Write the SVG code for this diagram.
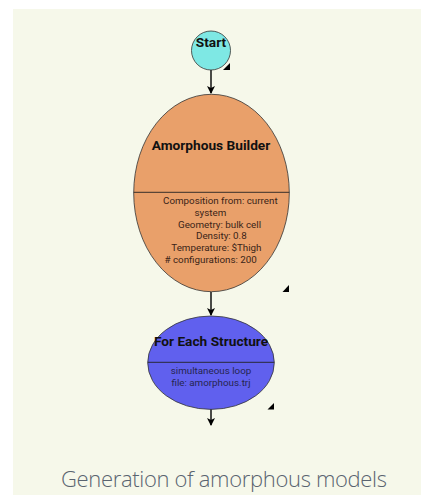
<svg xmlns="http://www.w3.org/2000/svg" width="421" height="495" viewBox="0 0 421 495">
<style>
.title{font-family:Roboto,"Liberation Sans",sans-serif;font-weight:bold;font-size:13.7px;fill:#111;text-anchor:middle}
.body{font-family:Roboto,"Liberation Sans",sans-serif;font-size:9.8px;fill:#3a2418}
.bodyb{font-family:Roboto,"Liberation Sans",sans-serif;font-size:9.8px;fill:#262650;text-anchor:middle}
.shape{stroke:#333;stroke-width:0.8}
.div{stroke:#222;stroke-width:0.9}
.conn{stroke:#000;stroke-width:1.4;fill:none;marker-end:url(#arr)}
.tri{fill:#000}
</style>
<defs>
<marker id="arr" viewBox="0 0 8 8" refX="7" refY="4" markerWidth="8" markerHeight="8" markerUnits="userSpaceOnUse" orient="auto">
<path d="M0,0 L8,4 L0,8 L2,4 Z" fill="#000"/>
</marker>
</defs>
<rect x="0" y="0" width="421" height="495" fill="#ffffff"/>
<rect x="13" y="9" width="408" height="486" fill="#f6f8ea"/>
<g id="connectors">
<line class="conn" x1="211" y1="70" x2="211" y2="93"/>
<line class="conn" x1="211" y1="292" x2="211" y2="315"/>
<line class="conn" x1="211" y1="409" x2="211" y2="425"/>
</g>
<g id="start">
<circle class="shape" cx="211" cy="50.5" r="19.5" fill="#7ee8e4"/>
<text class="title" x="211" y="46.5">Start</text>
<path class="tri" d="M230,63 L230,70 L223,70 Z"/>
</g>
<g id="amorphous-builder">
<ellipse class="shape" cx="211.5" cy="193" rx="77.8" ry="98.7" fill="#e9a06a"/>
<line class="div" x1="133.7" y1="192.3" x2="289.3" y2="192.3"/>
<text class="title" x="211" y="150">Amorphous Builder</text>
<text class="body" x="163" y="204">Composition from: current</text>
<text class="body" x="194.5" y="216">system</text>
<text class="body" x="178" y="227.5">Geometry: bulk cell</text>
<text class="body" x="196" y="239">Density: 0.8</text>
<text class="body" x="171.3" y="251">Temperature: $Thigh</text>
<text class="body" x="164.5" y="262.5"># configurations: 200</text>
<path class="tri" d="M289,285 L289,292 L282.5,292 Z"/>
</g>
<g id="for-each-structure">
<ellipse class="shape" cx="211" cy="362.7" rx="63.3" ry="46.7" fill="#6060ee"/>
<line class="div" x1="147.7" y1="362.3" x2="274.3" y2="362.3"/>
<text class="title" x="211" y="345.5">For Each Structure</text>
<text class="bodyb" x="211" y="374">simultaneous loop</text>
<text class="bodyb" x="211" y="385.5">file: amorphous.trj</text>
<path class="tri" d="M274,403 L274,409.5 L267.5,409.5 Z"/>
</g>
<text x="224" y="487" font-family="'Open Sans','Noto Sans',sans-serif" font-weight="300" font-size="22" fill="#5a6470" text-anchor="middle" textLength="326" lengthAdjust="spacing">Generation of amorphous models</text>
</svg>
